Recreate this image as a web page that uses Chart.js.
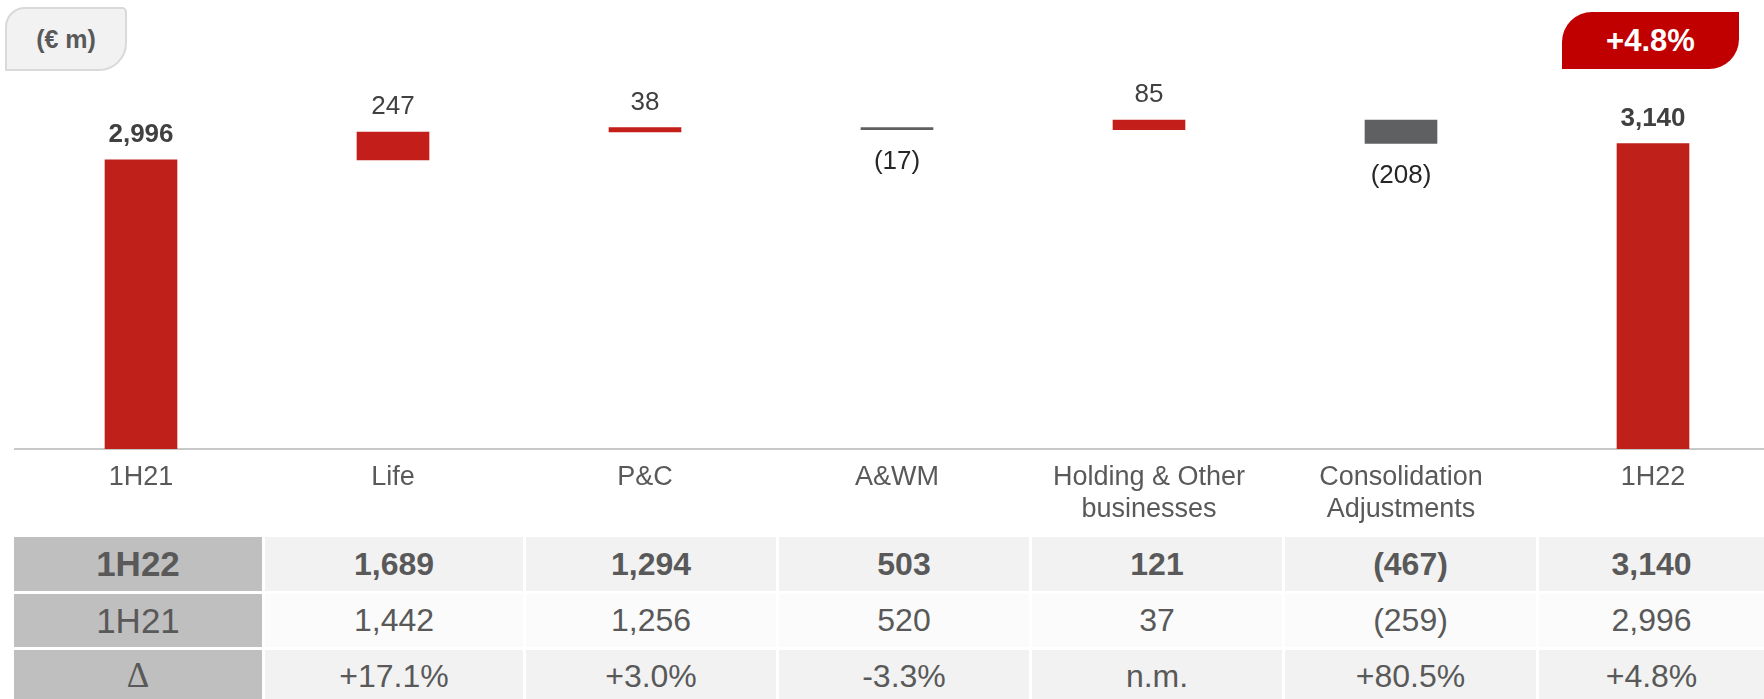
<!DOCTYPE html>
<html><head><meta charset="utf-8">
<script src="https://cdn.jsdelivr.net/npm/chart.js@4/dist/chart.umd.min.js"></script>
<style>
html,body{margin:0;padding:0;overflow:hidden;background:#fff;width:1764px;height:699px;}
body{position:relative;font-family:"Liberation Sans",Arial,sans-serif;}
#wrap{position:absolute;left:0;top:0;width:1779px;height:537px;}
.badge{position:absolute;box-sizing:border-box;display:flex;align-items:center;justify-content:center;font-weight:bold;}
#unit{left:5px;top:7px;width:122px;height:64px;background:#f2f2f2;border:2px solid #d9d9d9;border-radius:20px 5px 28px 0;color:#595959;font-size:25px;}
#growth{left:1562px;top:12px;width:177px;height:57px;background:#c00000;border-radius:30px 0 30px 0;color:#fff;font-size:31px;}
#tbl{position:absolute;left:14px;top:537px;display:grid;grid-template-columns:248px 258px 250px 250px 250px 251px 225px;grid-template-rows:54px 53px 52px;gap:3px;}
.c{display:flex;align-items:center;justify-content:center;font-size:32px;color:#595959;background:#f2f2f2;}
.c.r2{background:#fbfbfb;}
.c.b{font-weight:bold;}
.h{background:#bfbfbf;font-size:35px;}
.h.delta{font-family:"Liberation Serif","DejaVu Serif",serif;font-weight:normal;}
</style>
</head>
<body>
<div id="wrap"><canvas id="c"></canvas></div>
<div class="badge" id="unit"></div>
<div class="badge" id="growth"></div>
<div id="tbl"></div>
<script>
const categories = ['1H21', 'Life', 'P&C', 'A&WM', ['Holding & Other', 'businesses'], ['Consolidation', 'Adjustments'], '1H22'];
const startTotal = 2996;
const steps = [247, 38, -17, 85, -208];
const endTotal = 3140;
const growthLabel = '+4.8%';
const unitLabel = '(€ m)';
const rowHeads = ['1H22', '1H21', 'Δ'];
const row1H22 = ['1,689', '1,294', '503', '121', '(467)', '3,140'];
const row1H21 = ['1,442', '1,256', '520', '37', '(259)', '2,996'];
const rowDelta = ['+17.1%', '+3.0%', '-3.3%', 'n.m.', '+80.5%', '+4.8%'];
const yMin = 440, yMax = 4410;

document.getElementById('unit').textContent = unitLabel;
document.getElementById('growth').textContent = growthLabel;

const tbl = document.getElementById('tbl');
[row1H22, row1H21, rowDelta].forEach((row, r) => {
  const h = document.createElement('div');
  h.className = 'c h' + (r === 0 ? ' b' : '') + (r === 2 ? ' delta' : '');
  h.textContent = rowHeads[r];
  tbl.appendChild(h);
  row.forEach(v => {
    const d = document.createElement('div');
    d.className = 'c' + (r === 0 ? ' b' : '') + (r === 1 ? ' r2' : '');
    d.textContent = v;
    tbl.appendChild(d);
  });
});

const ranges = [[0, startTotal]];
let run = startTotal;
steps.forEach(d => { ranges.push([run, run + d]); run += d; });
ranges.push([0, endTotal]);
const kinds = ['total', ...steps.map(d => d >= 0 ? 'up' : 'down'), 'total'];
const values = [startTotal, ...steps, endTotal];
const colorOf = k => k === 'down' ? '#5f6062' : (k === 'up' ? '#c41e1a' : '#c0201a');

const fmt = v => { const s = Math.abs(v).toLocaleString('en-US'); return v < 0 ? '(' + s + ')' : s; };

const labelPlugin = {
  id: 'wfLabels',
  afterDatasetsDraw(chart) {
    const ctx = chart.ctx;
    const meta = chart.getDatasetMeta(0);
    meta.data.forEach((bar, i) => {
      const p = bar.getProps(['x', 'y', 'base'], true);
      const top = Math.min(p.y, p.base), bottom = Math.max(p.y, p.base);
      const k = kinds[i];
      ctx.save();
      ctx.textAlign = 'center';
      ctx.textBaseline = 'alphabetic';
      ctx.font = (k === 'total' ? 'bold ' : '') + '26px "Liberation Sans", Arial, sans-serif';
      if (k === 'down') {
        ctx.fillStyle = '#262626';
        ctx.fillText(fmt(values[i]), p.x, bottom + 39);
      } else {
        ctx.fillStyle = '#404040';
        ctx.fillText(fmt(values[i]), p.x, top - 18);
      }
      ctx.restore();
    });
  }
};

new Chart(document.getElementById('c'), {
  type: 'bar',
  data: {
    labels: categories,
    datasets: [{
      data: ranges,
      backgroundColor: kinds.map(colorOf),
      borderWidth: 0,
      barThickness: 72
    }]
  },
  options: {
    responsive: true,
    maintainAspectRatio: false,
    animation: false,
    layout: { padding: { left: 15, right: 0, top: 0, bottom: 0 } },
    plugins: { legend: { display: false }, tooltip: { enabled: false } },
    scales: {
      x: {
        grid: { display: false },
        border: { display: true, color: '#c8c8c8', width: 2 },
        ticks: {
          color: '#595959',
          font: { family: '"Liberation Sans", Arial, sans-serif', size: 27, lineHeight: 1.2 },
          padding: 4, autoSkip: false, maxRotation: 0, minRotation: 0
        },
        afterFit(s) { s.height = 88; }
      },
      y: { display: false, min: yMin, max: yMax }
    }
  },
  plugins: [labelPlugin]
});
</script>
</body></html>
